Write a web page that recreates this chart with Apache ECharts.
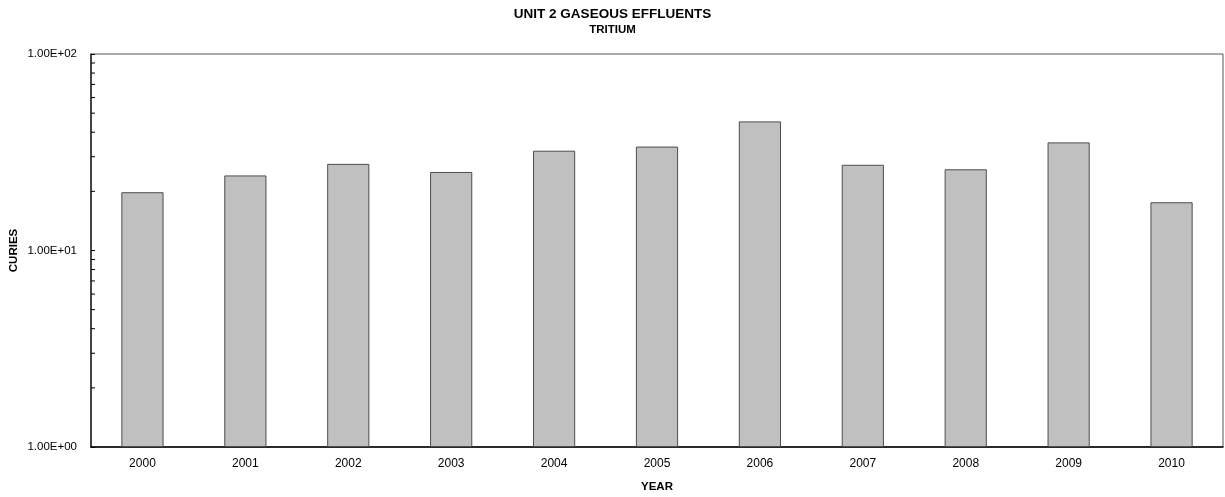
<!DOCTYPE html>
<html>
<head>
<meta charset="utf-8">
<title>Unit 2 Gaseous Effluents - Tritium</title>
<script src="https://cdn.jsdelivr.net/npm/echarts@6/dist/echarts.min.js"></script>
<style>
  html, body { margin: 0; padding: 0; background: #fff; }
  #chart { width: 1225px; height: 497px; }
</style>
</head>
<body>
<div id="chart"></div>
<script>
// data
var years = ['2000', '2001', '2002', '2003', '2004', '2005', '2006', '2007', '2008', '2009', '2010'];
var curies = [19.8, 24.1, 27.6, 25.1, 32.2, 33.8, 45.4, 27.3, 25.9, 35.5, 17.6];
// minor tick positions on the log axis
var minorTickValues = [2, 3, 4, 5, 6, 7, 8, 9, 20, 30, 40, 50, 60, 70, 80, 90];

var font = 'Liberation Sans, Arial, sans-serif';

function sciLabel(v) {
  var s = Number(v).toExponential(2).toUpperCase();  // 1.00E+2
  var parts = s.split('E');
  var exp = parseInt(parts[1], 10);
  var sign = exp < 0 ? '-' : '+';
  var mag = Math.abs(exp);
  return parts[0] + 'E' + sign + (mag < 10 ? '0' + mag : mag);
}

var chart = echarts.init(document.getElementById('chart'));

var option = {
  animation: false,
  backgroundColor: '#fff',
  title: {
    text: 'UNIT 2 GASEOUS EFFLUENTS',
    subtext: 'TRITIUM',
    left: 'center',
    top: 2,
    itemGap: 3,
    textStyle: { fontFamily: font, fontSize: 13.5, fontWeight: 'bold', color: '#000' },
    subtextStyle: { fontFamily: font, fontSize: 11.5, fontWeight: 'bold', color: '#000' }
  },
  grid: {
    left: 91,
    right: 2,
    top: 54,
    bottom: 50,
    containLabel: false,
    outerBoundsMode: 'none',
    show: true,
    borderColor: '#555',
    borderWidth: 1
  },
  xAxis: {
    type: 'category',
    data: years,
    name: 'YEAR',
    nameLocation: 'middle',
    nameGap: 34,
    nameMoveOverlap: false,
    nameTextStyle: { fontFamily: font, fontSize: 11.5, fontWeight: 'bold', color: '#000' },
    axisLine: { lineStyle: { color: '#000', width: 1.5 } },
    axisTick: { show: false },
    axisLabel: { fontFamily: font, fontSize: 12, color: '#000', margin: 11 }
  },
  yAxis: {
    type: 'log',
    logBase: 10,
    min: 1,
    max: 100,
    name: 'CURIES',
    nameLocation: 'middle',
    nameGap: 71,
    nameMoveOverlap: false,
    nameTextStyle: { fontFamily: font, fontSize: 11.5, fontWeight: 'bold', color: '#000' },
    axisLine: { show: true, lineStyle: { color: '#222', width: 1.5 } },
    axisTick: { show: true, inside: true, length: 4, lineStyle: { color: '#000' } },
    axisLabel: { fontFamily: font, fontSize: 11.5, color: '#000', margin: 14, formatter: sciLabel },
    splitLine: { show: false }
  },
  series: [
    {
      name: 'Tritium',
      type: 'bar',
      data: curies,
      barWidth: '41%',
      itemStyle: { color: '#c0c0c0', borderColor: '#4d4d4d', borderWidth: 1 }
    },
    {
      // minor ticks of the log axis
      type: 'custom',
      silent: true,
      clip: false,
      data: minorTickValues.map(function (v) { return [0, v]; }),
      renderItem: function (params, api) {
        var pt = api.coord([0, api.value(1)]);
        var x0 = params.coordSys.x;
        return {
          type: 'line',
          shape: { x1: x0, y1: pt[1], x2: x0 + 4, y2: pt[1] },
          style: { stroke: '#000', lineWidth: 1 }
        };
      }
    }
  ]
};

chart.setOption(option);
</script>
</body>
</html>
